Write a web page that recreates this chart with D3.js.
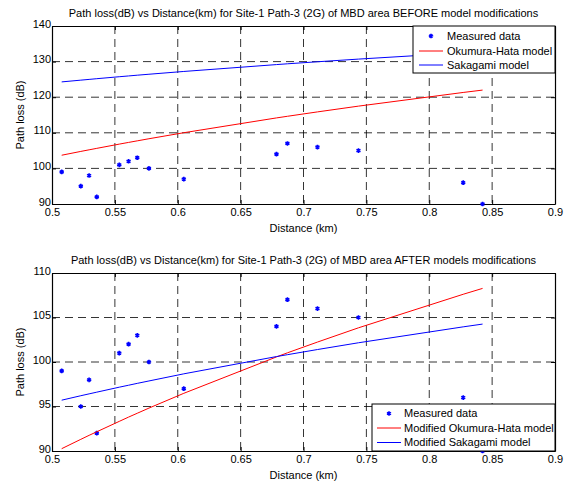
<!DOCTYPE html>
<html>
<head>
<meta charset="utf-8">
<script src="https://cdn.jsdelivr.net/npm/d3@7/dist/d3.min.js"></script>
<style>
  html, body { margin: 0; padding: 0; background: #fff; }
  text { font-family: "Liberation Sans", Arial, Helvetica, sans-serif; fill: #000; }
</style>
</head>
<body>
<svg id="chart" width="568" height="482"></svg>
<script>
// ---- data ----
const distances = [0.5077, 0.5229, 0.5295, 0.5356, 0.5535, 0.5609, 0.5678, 0.5771, 0.6048, 0.6785, 0.6872, 0.7111, 0.7437, 0.827, 0.8424];
const measured = [99, 95, 98, 92, 101, 102, 103, 100, 97, 104, 107, 106, 105, 96, 90];
const okumuraBefore = [103.70, 104.77, 105.22, 105.63, 106.82, 107.30, 107.74, 108.33, 110.02, 114.18, 114.64, 115.87, 117.49, 121.33, 122.00];
const sakagamiBefore = [124.30, 124.79, 125.00, 125.20, 125.75, 125.97, 126.18, 126.45, 127.23, 129.16, 129.38, 129.95, 130.70, 132.48, 132.79];
const okumuraAfter = [90.26, 91.31, 91.76, 92.16, 93.33, 93.81, 94.24, 94.82, 96.48, 100.57, 101.03, 102.24, 103.84, 107.61, 108.27];
const sakagamiAfter = [95.71, 96.21, 96.42, 96.61, 97.17, 97.39, 97.60, 97.87, 98.67, 100.61, 100.82, 101.40, 102.16, 103.95, 104.26];
const xTicks = [0.5, 0.55, 0.6, 0.65, 0.7, 0.75, 0.8, 0.85, 0.9];
const yTicksBefore = [90, 100, 110, 120, 130, 140];
const yTicksAfter = [90, 95, 100, 105, 110];
const titles = [
  "Path loss(dB) vs Distance(km) for Site-1 Path-3 (2G) of MBD area BEFORE model modifications",
  "Path loss(dB) vs Distance(km) for Site-1 Path-3 (2G) of MBD area AFTER models modifications"
];
const legendBefore = ["Measured data", "Okumura-Hata model", "Sakagami model"];
const legendAfter = ["Measured data", "Modified Okumura-Hata model", "Modified Sakagami model"];

const svg = d3.select("#chart");
svg.append("rect").attr("width", 568).attr("height", 482).attr("fill", "#fff");

const panels = [
  { top: 26, bottom: 204, yDomain: [90, 140], yTicks: yTicksBefore, title: titles[0],
    red: okumuraBefore, blue: sakagamiBefore, legend: legendBefore,
    leg: { x0: 413, y0: 26, x1: 555, y1: 73, rows: [36, 51, 65], s0: 419, s1: 443, tx: 447 } },
  { top: 273, bottom: 451, yDomain: [90, 110], yTicks: yTicksAfter, title: titles[1],
    red: okumuraAfter, blue: sakagamiAfter, legend: legendAfter,
    leg: { x0: 372, y0: 404, x1: 555, y1: 451, rows: [413.5, 428, 442.5], s0: 377, s1: 401, tx: 404 } }
];

const left = 52, right = 555;
const star = d3.symbol().type(d3.symbolAsterisk).size(15);

panels.forEach(p => {
  const x = d3.scaleLinear().domain([0.5, 0.9]).range([left, right]);
  const y = d3.scaleLinear().domain(p.yDomain).range([p.bottom, p.top]);
  const g = svg.append("g");

  // grid
  g.append("g").selectAll("line").data(xTicks.slice(1, -1)).join("line")
    .attr("x1", d => x(d)).attr("x2", d => x(d)).attr("y1", p.top).attr("y2", p.bottom)
    .attr("stroke", "#000").attr("stroke-width", 0.8).attr("stroke-dasharray", "8,5");
  g.append("g").selectAll("line").data(p.yTicks.slice(1, -1)).join("line")
    .attr("y1", d => y(d)).attr("y2", d => y(d)).attr("x1", left).attr("x2", right)
    .attr("stroke", "#000").attr("stroke-width", 0.8).attr("stroke-dasharray", "8,5");

  // axes
  const xb = g.append("g").attr("transform", `translate(0,${p.bottom})`)
    .call(d3.axisBottom(x).tickValues(xTicks).tickFormat(d3.format("")).tickSizeInner(-4).tickSizeOuter(0).tickPadding(2));
  const xt = g.append("g").attr("transform", `translate(0,${p.top})`)
    .call(d3.axisTop(x).tickValues(xTicks).tickFormat("").tickSizeInner(-4).tickSizeOuter(0));
  const yl = g.append("g").attr("transform", `translate(${left},0)`)
    .call(d3.axisLeft(y).tickValues(p.yTicks).tickFormat(d3.format("")).tickSizeInner(-4).tickSizeOuter(0).tickPadding(1));
  const yr = g.append("g").attr("transform", `translate(${right},0)`)
    .call(d3.axisRight(y).tickValues(p.yTicks).tickFormat("").tickSizeInner(-4).tickSizeOuter(0));
  [xb, xt, yl, yr].forEach(a => {
    a.select(".domain").attr("stroke", "#000").attr("stroke-width", 1.2);
    a.selectAll(".tick line").attr("stroke", "#000");
    a.selectAll("text").attr("font-size", 11).attr("font-family", "Liberation Sans, Arial, sans-serif").attr("fill", "#000");
  });
  xb.selectAll("text").attr("dy", "0.95em");
  yl.selectAll("text").attr("dy", "0.1em");

  // measured
  g.append("g").selectAll("path").data(distances).join("path")
    .attr("d", star)
    .attr("transform", (d, i) => `translate(${x(d)},${y(measured[i])})`)
    .attr("stroke", "#0000ff").attr("stroke-width", 1.6).attr("fill", "none");

  const line = vals => d3.line().x((d, i) => x(d)).y((d, i) => y(vals[i]))(distances);
  g.append("path").attr("d", line(p.red)).attr("fill", "none").attr("stroke", "#ff0000").attr("stroke-width", 1);
  g.append("path").attr("d", line(p.blue)).attr("fill", "none").attr("stroke", "#0000ff").attr("stroke-width", 1);

  // title
  g.append("text").attr("x", (left + right) / 2).attr("y", p.top - 9)
    .attr("text-anchor", "middle").attr("font-size", 11).text(p.title);
  // x label
  g.append("text").attr("x", (left + right) / 2).attr("y", p.bottom + 28)
    .attr("text-anchor", "middle").attr("font-size", 11).text("Distance (km)");
  // y label
  g.append("text").attr("transform", `translate(24,${(p.top + p.bottom) / 2}) rotate(-90)`)
    .attr("text-anchor", "middle").attr("font-size", 11).text("Path loss (dB)");

  // legend
  const L = p.leg;
  const lg = g.append("g");
  lg.append("rect").attr("x", L.x0).attr("y", L.y0).attr("width", L.x1 - L.x0).attr("height", L.y1 - L.y0)
    .attr("fill", "#fff").attr("stroke", "#000").attr("stroke-width", 1);
  lg.append("path").attr("d", star).attr("transform", `translate(${(L.s0 + L.s1) / 2},${L.rows[0]})`)
    .attr("stroke", "#0000ff").attr("stroke-width", 1.6).attr("fill", "none");
  lg.append("line").attr("x1", L.s0).attr("x2", L.s1).attr("y1", L.rows[1]).attr("y2", L.rows[1]).attr("stroke", "#ff0000");
  lg.append("line").attr("x1", L.s0).attr("x2", L.s1).attr("y1", L.rows[2]).attr("y2", L.rows[2]).attr("stroke", "#0000ff");
  lg.selectAll("text.leg").data(p.legend).join("text").attr("class", "leg")
    .attr("x", L.tx).attr("y", (d, i) => L.rows[i]).attr("dy", "0.35em")
    .attr("font-size", 11).text(d => d);
});
</script>
</body>
</html>
